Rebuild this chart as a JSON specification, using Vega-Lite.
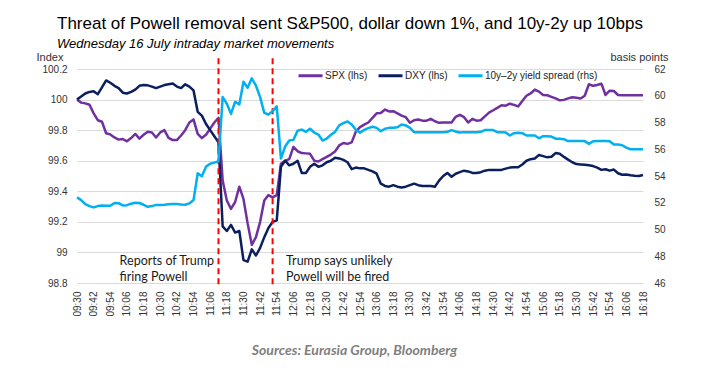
{
 "$schema": "https://vega.github.io/schema/vega-lite/v6.json",
 "width": 566,
 "height": 214,
 "autosize": {"type": "none"},
 "padding": {"left": 77, "top": 69, "right": 70, "bottom": 96},
 "background": "white",
 "config": {"font": "Liberation Sans", "view": {"stroke": null}, "axis": {"labelOverlap": false}},
 "title": {
  "text": "Threat of Powell removal sent S&P500, dollar down 1%, and 10y-2y up 10bps",
  "subtitle": "Wednesday 16 July intraday market movements",
  "anchor": "start", "frame": "group", "dx": -20, "offset": -1,
  "fontSize": 17, "fontWeight": "normal", "font": "Liberation Sans", "color": "#000000",
  "subtitleFont": "Liberation Sans", "subtitleFontStyle": "italic", "subtitleFontSize": 13,
  "subtitleColor": "#000000", "subtitlePadding": 5
 },
 "datasets": {
  "d": [
   {"t":"09:30","spx":100.0,"dxy":100.0,"spr":52.4},
   {"t":"09:33","spx":99.98,"dxy":100.02,"spr":52.2},
   {"t":"09:36","spx":99.975,"dxy":100.04,"spr":51.9},
   {"t":"09:39","spx":99.966,"dxy":100.05,"spr":51.75},
   {"t":"09:42","spx":99.91,"dxy":100.055,"spr":51.65},
   {"t":"09:45","spx":99.865,"dxy":100.035,"spr":51.75},
   {"t":"09:48","spx":99.855,"dxy":100.08,"spr":51.8},
   {"t":"09:51","spx":99.78,"dxy":100.125,"spr":51.77},
   {"t":"09:54","spx":99.772,"dxy":100.11,"spr":51.77},
   {"t":"09:57","spx":99.752,"dxy":100.09,"spr":51.98},
   {"t":"10:00","spx":99.738,"dxy":100.075,"spr":51.97},
   {"t":"10:03","spx":99.742,"dxy":100.045,"spr":51.8},
   {"t":"10:06","spx":99.727,"dxy":100.04,"spr":51.82},
   {"t":"10:09","spx":99.748,"dxy":100.05,"spr":51.93},
   {"t":"10:12","spx":99.775,"dxy":100.065,"spr":52.0},
   {"t":"10:15","spx":99.745,"dxy":100.09,"spr":51.98},
   {"t":"10:18","spx":99.77,"dxy":100.095,"spr":51.85},
   {"t":"10:21","spx":99.79,"dxy":100.093,"spr":51.7},
   {"t":"10:24","spx":99.785,"dxy":100.085,"spr":51.75},
   {"t":"10:27","spx":99.752,"dxy":100.075,"spr":51.84},
   {"t":"10:30","spx":99.785,"dxy":100.085,"spr":51.84},
   {"t":"10:33","spx":99.8,"dxy":100.095,"spr":51.85},
   {"t":"10:36","spx":99.75,"dxy":100.1,"spr":51.88},
   {"t":"10:39","spx":99.735,"dxy":100.105,"spr":51.9},
   {"t":"10:42","spx":99.735,"dxy":100.085,"spr":51.9},
   {"t":"10:45","spx":99.765,"dxy":100.075,"spr":51.87},
   {"t":"10:48","spx":99.8,"dxy":100.1,"spr":51.85},
   {"t":"10:51","spx":99.85,"dxy":100.085,"spr":51.95},
   {"t":"10:54","spx":99.87,"dxy":100.06,"spr":52.2},
   {"t":"10:57","spx":99.775,"dxy":99.92,"spr":54.2},
   {"t":"11:00","spx":99.748,"dxy":99.895,"spr":53.98},
   {"t":"11:03","spx":99.77,"dxy":99.84,"spr":54.7},
   {"t":"11:06","spx":99.81,"dxy":99.8,"spr":54.92},
   {"t":"11:09","spx":99.85,"dxy":99.76,"spr":55.0},
   {"t":"11:12","spx":99.88,"dxy":99.72,"spr":55.1},
   {"t":"11:15","spx":99.47,"dxy":99.17,"spr":59.9},
   {"t":"11:18","spx":99.34,"dxy":99.14,"spr":59.4},
   {"t":"11:21","spx":99.285,"dxy":99.18,"spr":58.65},
   {"t":"11:24","spx":99.33,"dxy":99.13,"spr":59.55},
   {"t":"11:27","spx":99.43,"dxy":99.14,"spr":59.35},
   {"t":"11:30","spx":99.35,"dxy":98.95,"spr":61.05},
   {"t":"11:33","spx":99.19,"dxy":98.94,"spr":60.6},
   {"t":"11:36","spx":99.05,"dxy":99.02,"spr":61.3},
   {"t":"11:39","spx":99.1,"dxy":98.98,"spr":60.75},
   {"t":"11:42","spx":99.2,"dxy":99.03,"spr":59.9},
   {"t":"11:45","spx":99.34,"dxy":99.1,"spr":58.72},
   {"t":"11:48","spx":99.375,"dxy":99.16,"spr":58.6},
   {"t":"11:51","spx":99.36,"dxy":99.2,"spr":58.85},
   {"t":"11:54","spx":99.375,"dxy":99.21,"spr":59.2},
   {"t":"11:57","spx":99.58,"dxy":99.56,"spr":55.3},
   {"t":"12:00","spx":99.6,"dxy":99.6,"spr":56.2},
   {"t":"12:03","spx":99.61,"dxy":99.57,"spr":56.65},
   {"t":"12:06","spx":99.69,"dxy":99.58,"spr":56.7},
   {"t":"12:09","spx":99.662,"dxy":99.6,"spr":57.38},
   {"t":"12:12","spx":99.65,"dxy":99.52,"spr":57.47},
   {"t":"12:15","spx":99.648,"dxy":99.52,"spr":57.3},
   {"t":"12:18","spx":99.645,"dxy":99.56,"spr":57.53},
   {"t":"12:21","spx":99.6,"dxy":99.58,"spr":57.25},
   {"t":"12:24","spx":99.595,"dxy":99.56,"spr":57.1},
   {"t":"12:27","spx":99.61,"dxy":99.57,"spr":56.65},
   {"t":"12:30","spx":99.625,"dxy":99.59,"spr":56.8},
   {"t":"12:33","spx":99.64,"dxy":99.6,"spr":57.08},
   {"t":"12:36","spx":99.66,"dxy":99.62,"spr":57.3},
   {"t":"12:39","spx":99.7,"dxy":99.615,"spr":57.78},
   {"t":"12:42","spx":99.716,"dxy":99.605,"spr":57.95},
   {"t":"12:45","spx":99.71,"dxy":99.59,"spr":58.08},
   {"t":"12:48","spx":99.72,"dxy":99.545,"spr":57.85},
   {"t":"12:51","spx":99.79,"dxy":99.555,"spr":57.45},
   {"t":"12:54","spx":99.82,"dxy":99.55,"spr":57.23},
   {"t":"12:57","spx":99.836,"dxy":99.55,"spr":57.45},
   {"t":"13:00","spx":99.85,"dxy":99.54,"spr":57.58},
   {"t":"13:03","spx":99.88,"dxy":99.53,"spr":57.68},
   {"t":"13:06","spx":99.91,"dxy":99.515,"spr":57.6},
   {"t":"13:09","spx":99.912,"dxy":99.45,"spr":57.35},
   {"t":"13:12","spx":99.935,"dxy":99.435,"spr":57.53},
   {"t":"13:15","spx":99.922,"dxy":99.43,"spr":57.6},
   {"t":"13:18","spx":99.924,"dxy":99.44,"spr":57.6},
   {"t":"13:21","spx":99.91,"dxy":99.43,"spr":57.65},
   {"t":"13:24","spx":99.895,"dxy":99.425,"spr":57.85},
   {"t":"13:27","spx":99.885,"dxy":99.43,"spr":57.78},
   {"t":"13:30","spx":99.848,"dxy":99.44,"spr":57.6},
   {"t":"13:33","spx":99.865,"dxy":99.45,"spr":57.28},
   {"t":"13:36","spx":99.87,"dxy":99.44,"spr":57.28},
   {"t":"13:39","spx":99.862,"dxy":99.435,"spr":57.28},
   {"t":"13:42","spx":99.862,"dxy":99.435,"spr":57.28},
   {"t":"13:45","spx":99.874,"dxy":99.435,"spr":57.28},
   {"t":"13:48","spx":99.858,"dxy":99.43,"spr":57.28},
   {"t":"13:51","spx":99.848,"dxy":99.47,"spr":57.28},
   {"t":"13:54","spx":99.85,"dxy":99.5,"spr":57.28},
   {"t":"13:57","spx":99.85,"dxy":99.52,"spr":57.3},
   {"t":"14:00","spx":99.85,"dxy":99.495,"spr":57.43},
   {"t":"14:03","spx":99.887,"dxy":99.515,"spr":57.33},
   {"t":"14:06","spx":99.9,"dxy":99.525,"spr":57.25},
   {"t":"14:09","spx":99.885,"dxy":99.535,"spr":57.28},
   {"t":"14:12","spx":99.85,"dxy":99.53,"spr":57.28},
   {"t":"14:15","spx":99.874,"dxy":99.52,"spr":57.28},
   {"t":"14:18","spx":99.862,"dxy":99.52,"spr":57.28},
   {"t":"14:21","spx":99.865,"dxy":99.525,"spr":57.3},
   {"t":"14:24","spx":99.89,"dxy":99.535,"spr":57.43},
   {"t":"14:27","spx":99.915,"dxy":99.54,"spr":57.43},
   {"t":"14:30","spx":99.93,"dxy":99.54,"spr":57.43},
   {"t":"14:33","spx":99.946,"dxy":99.54,"spr":57.28},
   {"t":"14:36","spx":99.963,"dxy":99.54,"spr":57.28},
   {"t":"14:39","spx":99.96,"dxy":99.548,"spr":57.25},
   {"t":"14:42","spx":99.973,"dxy":99.555,"spr":57.03},
   {"t":"14:45","spx":99.965,"dxy":99.557,"spr":57.2},
   {"t":"14:48","spx":99.955,"dxy":99.557,"spr":57.23},
   {"t":"14:51","spx":99.99,"dxy":99.575,"spr":57.2},
   {"t":"14:54","spx":100.025,"dxy":99.6,"spr":57.03},
   {"t":"14:57","spx":100.04,"dxy":99.61,"spr":57.03},
   {"t":"15:00","spx":100.065,"dxy":99.615,"spr":57.03},
   {"t":"15:03","spx":100.052,"dxy":99.637,"spr":56.82},
   {"t":"15:06","spx":100.03,"dxy":99.63,"spr":56.98},
   {"t":"15:09","spx":100.028,"dxy":99.622,"spr":56.98},
   {"t":"15:12","spx":100.018,"dxy":99.626,"spr":56.95},
   {"t":"15:15","spx":100.008,"dxy":99.65,"spr":56.79},
   {"t":"15:18","spx":99.995,"dxy":99.645,"spr":56.79},
   {"t":"15:21","spx":99.998,"dxy":99.625,"spr":56.75},
   {"t":"15:24","spx":100.008,"dxy":99.607,"spr":56.61},
   {"t":"15:27","spx":100.015,"dxy":99.59,"spr":56.61},
   {"t":"15:30","spx":100.012,"dxy":99.578,"spr":56.61},
   {"t":"15:33","spx":100.007,"dxy":99.576,"spr":56.61},
   {"t":"15:36","spx":100.025,"dxy":99.573,"spr":56.61},
   {"t":"15:39","spx":100.1,"dxy":99.57,"spr":56.4},
   {"t":"15:42","spx":100.09,"dxy":99.565,"spr":56.6},
   {"t":"15:45","spx":100.095,"dxy":99.555,"spr":56.61},
   {"t":"15:48","spx":100.104,"dxy":99.54,"spr":56.61},
   {"t":"15:51","spx":100.03,"dxy":99.544,"spr":56.61},
   {"t":"15:54","spx":100.058,"dxy":99.535,"spr":56.6},
   {"t":"15:57","spx":100.056,"dxy":99.542,"spr":56.36},
   {"t":"16:00","spx":100.03,"dxy":99.518,"spr":56.36},
   {"t":"16:03","spx":100.028,"dxy":99.508,"spr":56.3},
   {"t":"16:06","spx":100.028,"dxy":99.51,"spr":56.12},
   {"t":"16:09","spx":100.028,"dxy":99.505,"spr":56.0},
   {"t":"16:12","spx":100.028,"dxy":99.502,"spr":56.0},
   {"t":"16:15","spx":100.028,"dxy":99.5,"spr":56.0},
   {"t":"16:18","spx":100.028,"dxy":99.507,"spr":56.0}
  ],
  "ev": [{"t": "11:12"}, {"t": "11:51"}],
  "ann": [
   {"t": "10:00", "v": 98.917, "label": "Reports of Trump\nfiring Powell"},
   {"t": "12:00", "v": 98.917, "label": "Trump says unlikely\nPowell will be fired"}
  ]
 },
 "layer": [
  {
   "layer": [
    {
     "data": {"name": "d"},
     "transform": [{"fold": ["spx", "dxy"], "as": ["s", "v"]}],
     "mark": {"type": "line", "strokeWidth": 2.5, "strokeJoin": "round"},
     "encoding": {
      "x": {
       "field": "t", "type": "ordinal",
       "scale": {"type": "point", "padding": 0},
       "axis": {
        "title": "Sources: Eurasia Group, Bloomberg",
        "values": ["09:30","09:42","09:54","10:06","10:18","10:30","10:42","10:54","11:06","11:18","11:30","11:42","11:54","12:06","12:18","12:30","12:42","12:54","13:06","13:18","13:30","13:42","13:54","14:06","14:18","14:30","14:42","14:54","15:06","15:18","15:30","15:42","15:54","16:06","16:18"],
        "labelAngle": -90, "labelFontSize": 10, "labelColor": "#333333", "labelPadding": 8,
        "labelOverlap": false,
        "domain": false, "ticks": false, "grid": false,
        "titleFont": "Lato", "titleFontStyle": "italic", "titleFontWeight": "bold",
        "titleFontSize": 14, "titleColor": "#7f7f7f",
        "titleX": 277, "titleY": 67, "titleBaseline": "middle", "titleAlign": "center"
       }
      },
      "y": {
       "field": "v", "type": "quantitative",
       "scale": {"domain": [98.8, 100.2], "zero": false, "nice": false},
       "axis": {
        "title": "Index", "titleAngle": 0, "titleAlign": "left", "titleBaseline": "middle",
        "titleX": -41, "titleY": -12, "titleFontSize": 11, "titleFontWeight": "normal", "titleColor": "#333333",
        "values": [98.8, 99, 99.2, 99.4, 99.6, 99.8, 100, 100.2],
        "labelExpr": "format(datum.value, '.1f') == '100.0' ? '100' : format(datum.value, '.1f') == '99.0' ? '99' : format(datum.value, '.1f')",
        "labelOverlap": false, "labelBound": false, "labelFlush": false,
        "labelFontSize": 10, "labelColor": "#333333", "labelPadding": 10,
        "domain": false, "ticks": false, "grid": true, "gridColor": "#d9d9d9", "gridWidth": 1
       }
      },
      "color": {
       "field": "s", "type": "nominal",
       "scale": {"domain": ["spx", "dxy", "spr"], "range": ["#7030A0", "#0B1F5E", "#00B0F0"]},
       "legend": {
        "orient": "none", "legendX": 220, "legendY": -7, "direction": "horizontal",
        "title": null, "symbolType": "stroke", "symbolSize": 576, "symbolStrokeWidth": 3,
        "labelFontSize": 10, "labelColor": "#222222", "labelOffset": 1, "columnPadding": 4, "padding": 0,
        "labelExpr": "datum.value == 'spx' ? 'SPX (lhs)' : datum.value == 'dxy' ? 'DXY (lhs)' : '10y–2y yield spread (rhs)'"
       }
      }
     }
    },
    {
     "data": {"name": "ev"},
     "mark": {"type": "rule", "color": "#FF0000", "strokeWidth": 2, "strokeDash": [6, 4]},
     "encoding": {
      "x": {"field": "t", "type": "ordinal"},
      "y": {"datum": 100.27, "axis": {"labelOverlap": false, "values": [98.8, 99, 99.2, 99.4, 99.6, 99.8, 100, 100.2]}},
      "y2": {"datum": 98.77}
     }
    },
    {
     "data": {"name": "ann"},
     "mark": {"type": "text", "align": "left", "baseline": "alphabetic", "lineBreak": "\n", "fontSize": 12.5, "font": "Lato", "lineHeight": 16, "color": "#1a1a1a", "dx": 1},
     "encoding": {
      "x": {"field": "t", "type": "ordinal"},
      "y": {"field": "v", "type": "quantitative", "axis": {"labelOverlap": false, "values": [98.8, 99, 99.2, 99.4, 99.6, 99.8, 100, 100.2]}},
      "text": {"field": "label"}
     }
    }
   ]
  },
  {
   "data": {"name": "d"},
   "transform": [{"fold": ["spr"], "as": ["s", "v"]}],
   "mark": {"type": "line", "strokeWidth": 2.5, "strokeJoin": "round"},
   "encoding": {
    "x": {"field": "t", "type": "ordinal"},
    "y": {
     "field": "v", "type": "quantitative",
     "scale": {"domain": [46, 62], "zero": false, "nice": false},
     "axis": {
      "orient": "right", "title": "basis points", "titleAngle": 0, "titleAlign": "right", "titleBaseline": "middle",
      "titleX": 25, "titleY": -12, "titleFontSize": 11, "titleFontWeight": "normal", "titleColor": "#333333",
      "values": [46, 48, 50, 52, 54, 56, 58, 60, 62], "format": "d",
      "labelOverlap": false,
      "labelFontSize": 10, "labelColor": "#333333", "labelPadding": 11,
      "domain": false, "ticks": false, "grid": false
     }
    },
    "color": {"field": "s", "type": "nominal"}
   }
  }
 ],
 "resolve": {"scale": {"y": "independent"}}
}
